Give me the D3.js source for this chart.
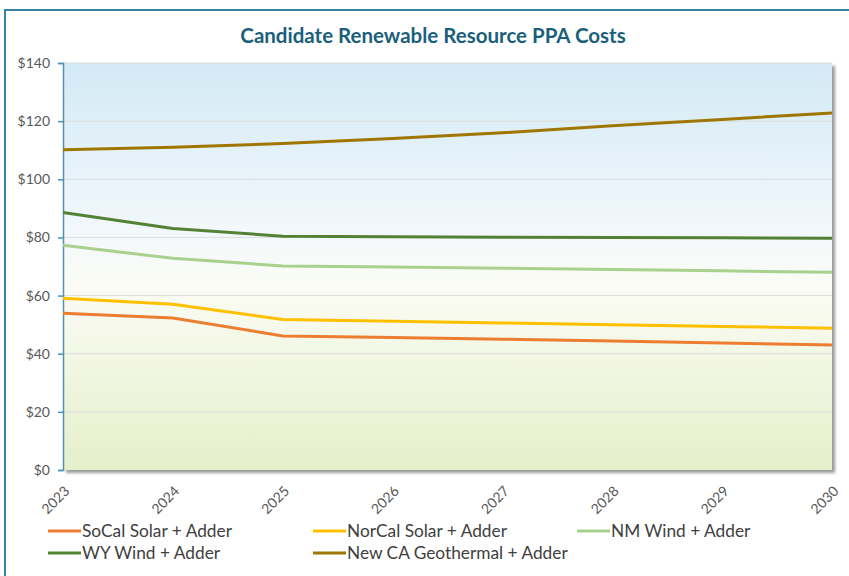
<!DOCTYPE html>
<html>
<head>
<meta charset="utf-8">
<script src="https://cdn.jsdelivr.net/npm/d3@7"></script>
<style>
  body { margin: 0; background: #fff; }
  #chart { width: 849px; height: 576px; }
  text { font-family: Lato, "Open Sans", sans-serif; }
</style>
</head>
<body>
<div id="chart"></div>
<script>
const years = [2023, 2024, 2025, 2026, 2027, 2028, 2029, 2030];
const yTicks = [0, 20, 40, 60, 80, 100, 120, 140];

const seriesNames = [
    "SoCal Solar + Adder",
    "NorCal Solar + Adder",
    "NM Wind + Adder",
    "WY Wind + Adder",
    "New CA Geothermal + Adder"
];
const seriesColors = ["#ed7d31", "#ffc000", "#a9d18e", "#548235", "#9e7600"];

const socalSolar = [53.9, 52.3, 46.1, 45.6, 45.0, 44.4, 43.7, 43.0];
const norcalSolar = [59.1, 57.0, 51.8, 51.2, 50.6, 50.0, 49.4, 48.8];
const nmWind = [77.3, 72.8, 70.2, 69.8, 69.4, 69.0, 68.5, 68.0];
const wyWind = [88.6, 83.1, 80.4, 80.2, 80.1, 80.0, 79.9, 79.7];
const caGeothermal = [110.2, 111.0, 112.3, 114.0, 116.0, 118.4, 120.6, 122.8];

const seriesValues = [socalSolar, norcalSolar, nmWind, wyWind, caGeothermal];

const margin = {top: 63, right: 17, bottom: 106, left: 63};
const fullW = 849, fullH = 576;
const width = fullW - margin.left - margin.right;
const height = fullH - margin.top - margin.bottom;

const root = d3.select("#chart").append("svg")
    .attr("width", fullW)
    .attr("height", fullH);

const defs = root.append("defs");
const grad = defs.append("linearGradient")
    .attr("id", "bg-grad")
    .attr("x1", 0).attr("y1", 0).attr("x2", 0).attr("y2", 1);
grad.append("stop").attr("offset", "0%").attr("stop-color", "#d3eaf5");
grad.append("stop").attr("offset", "42%").attr("stop-color", "#f3f8fc");
grad.append("stop").attr("offset", "55%").attr("stop-color", "#fbfcf4");
grad.append("stop").attr("offset", "100%").attr("stop-color", "#e5efca");

const shadow = defs.append("filter").attr("id", "shadow")
    .attr("x", "-5%").attr("y", "-5%").attr("width", "110%").attr("height", "110%");
shadow.append("feGaussianBlur").attr("stdDeviation", 1.5);

// outer frame (right/bottom edges fall outside the window)
root.append("rect")
    .attr("x", 5).attr("y", 10)
    .attr("width", fullW + 20).attr("height", fullH + 20)
    .attr("fill", "#fff")
    .attr("stroke", "#3582a4")
    .attr("stroke-width", 2);

root.append("text")
    .attr("x", 433)
    .attr("y", 43)
    .attr("text-anchor", "middle")
    .attr("font-size", 20.5)
    .attr("font-weight", "bold")
    .attr("fill", "#1b5f7c")
    .text("Candidate Renewable Resource PPA Costs");

const svg = root.append("g")
    .attr("transform", `translate(${margin.left},${margin.top})`);

const x = d3.scalePoint().domain(years).range([0, width]);
const y = d3.scaleLinear().domain([0, 140]).range([height, 0]);

svg.append("rect")
    .attr("x", 3).attr("y", 3)
    .attr("width", width).attr("height", height)
    .attr("fill", "#9a9a9a")
    .attr("filter", "url(#shadow)");

svg.append("rect")
    .attr("width", width).attr("height", height)
    .attr("fill", "url(#bg-grad)");

svg.append("g")
    .attr("class", "grid")
    .selectAll("line")
    .data(yTicks.slice(1))
    .join("line")
    .attr("x1", 0).attr("x2", width)
    .attr("y1", d => y(d)).attr("y2", d => y(d))
    .attr("stroke", "#dcdcdc")
    .attr("stroke-width", 1);

const yAxis = svg.append("g")
    .attr("class", "axis y-axis")
    .call(d3.axisLeft(y).tickValues(yTicks).tickSize(5).tickPadding(8).tickFormat(d => "$" + d));
yAxis.select(".domain").attr("stroke", "#4b93b8").attr("stroke-width", 1.5);
yAxis.selectAll(".tick line").attr("stroke", "#4b93b8").attr("stroke-width", 1.5);
yAxis.selectAll(".tick text")
    .attr("fill", "#595959")
    .attr("font-size", 14)
    .attr("font-family", "Lato, 'Open Sans', sans-serif");

const xAxis = svg.append("g")
    .attr("class", "axis x-axis")
    .attr("transform", `translate(0,${height})`)
    .call(d3.axisBottom(x).tickSize(0).tickPadding(0));
xAxis.select(".domain").remove();
xAxis.selectAll(".tick text")
    .attr("fill", "#595959")
    .attr("font-size", 14)
    .attr("font-family", "Lato, 'Open Sans', sans-serif")
    .attr("text-anchor", "end")
    .attr("dy", 0)
    .attr("transform", "translate(7,22) rotate(-45)");

const line = d3.line()
    .x((d, i) => x(years[i]))
    .y(d => y(d));

svg.append("g")
    .selectAll("path")
    .data(seriesValues)
    .join("path")
    .attr("class", "series-line")
    .attr("d", line)
    .attr("fill", "none")
    .attr("stroke", (d, i) => seriesColors[i])
    .attr("stroke-width", 3)
    .attr("stroke-linejoin", "round");

// legend
const legendPos = [
    {x: 48, y: 531}, {x: 313, y: 531}, {x: 577, y: 531},
    {x: 48, y: 553}, {x: 313, y: 553}
];
const legend = root.append("g")
    .selectAll("g")
    .data(seriesNames)
    .join("g")
    .attr("transform", (d, i) => `translate(${legendPos[i].x},${legendPos[i].y})`);
legend.append("line")
    .attr("x1", 0).attr("x2", 33)
    .attr("y1", 0).attr("y2", 0)
    .attr("stroke", (d, i) => seriesColors[i])
    .attr("stroke-width", 3);
legend.append("text")
    .attr("x", 34)
    .attr("y", 0)
    .attr("dy", "0.35em")
    .attr("font-size", 17.3)
    .attr("fill", "#404040")
    .text(d => d);
</script>
</body>
</html>
